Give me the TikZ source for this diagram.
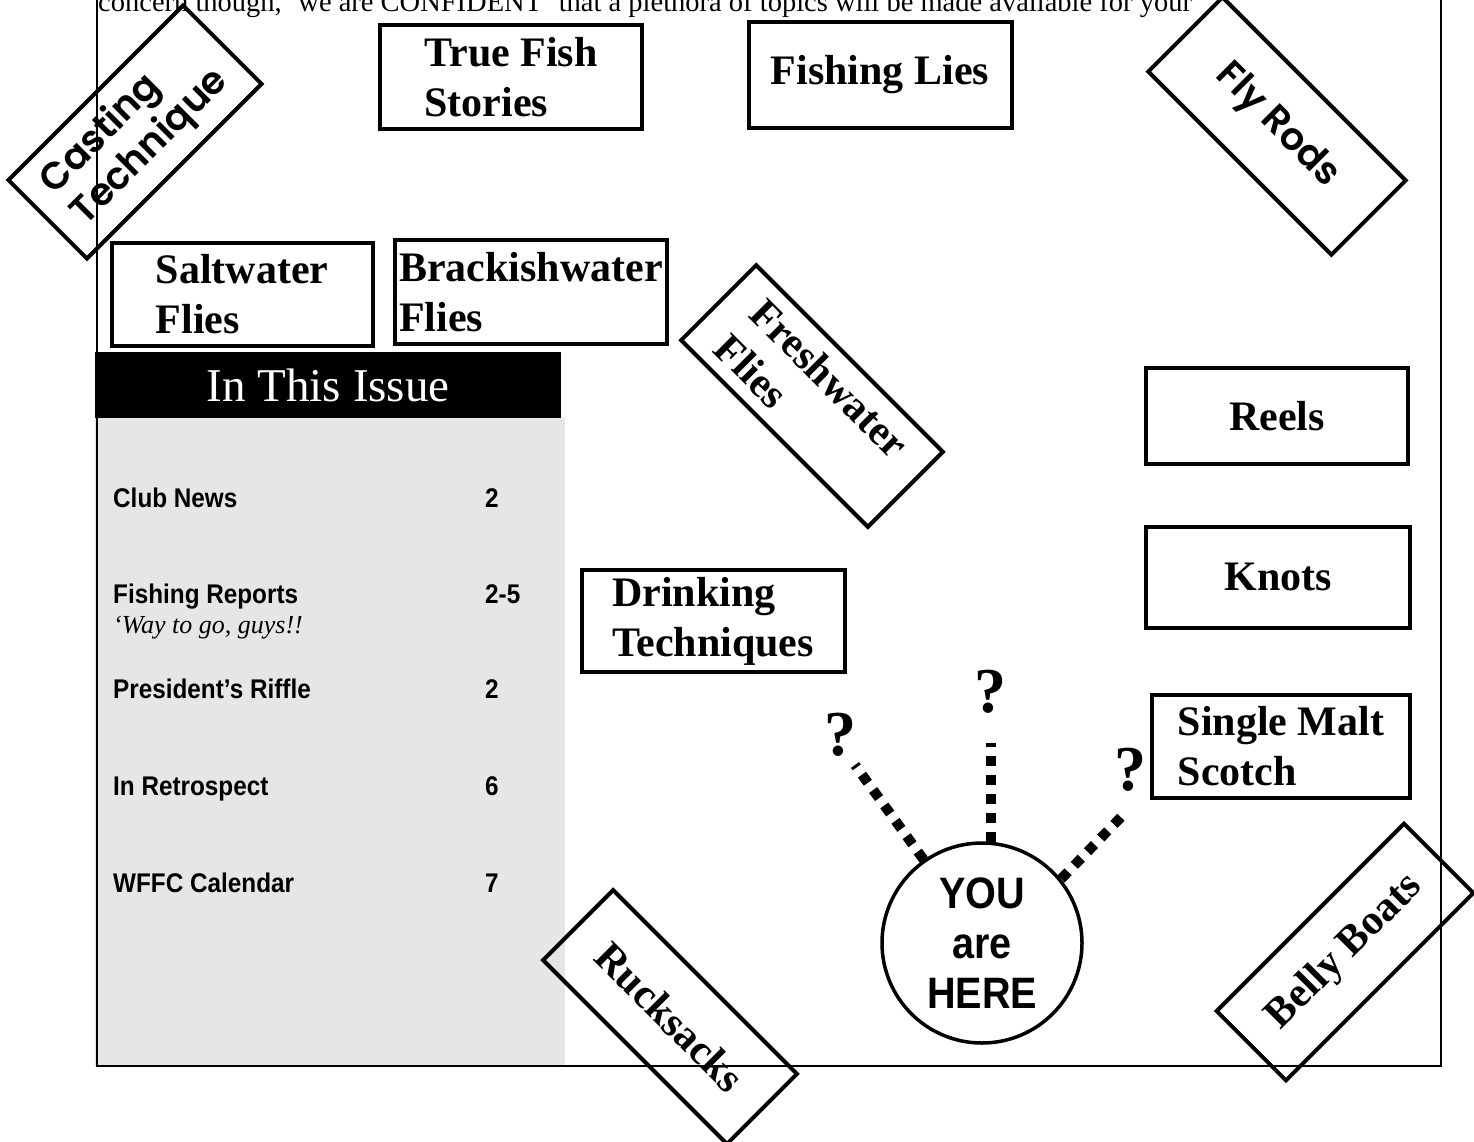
\documentclass[tikz,border=0pt]{standalone}
\usepackage{fontspec}
\setmainfont{Liberation Serif}
\newfontfamily\geofont{Poppins SemiBold}
\newfontfamily\gothfont{Liberation Sans}[FakeStretch=0.9]
\usepackage{xcolor}
\usepackage{tikz}
\usetikzlibrary{positioning}
\definecolor{panelgray}{HTML}{E6E6E6}

\begin{document}
\begin{tikzpicture}[
    x=1pt, y=-1pt,
    topic/.style={rectangle, draw=black, line width=4pt, minimum width=262pt, minimum height=104pt, align=left, inner sep=2pt, font=\fontsize{42}{50}\selectfont\bfseries},
    geotopic/.style={topic, font=\geofont\fontsize{38}{44}\selectfont},
    entry/.style={anchor=base west, inner sep=0pt, font=\gothfont\fontsize{27}{30}\selectfont\bfseries},
    qmark/.style={inner sep=0pt, font=\fontsize{64}{64}\selectfont\bfseries},
    qline/.style={line width=10pt, dash pattern=on 10pt off 9pt}
]
    \useasboundingbox (0,0) rectangle (1474,1141);

    % contents panel
    \fill[panelgray] (95,418) rectangle (565,1066);
    \node[fill=black, text=white, anchor=north west, minimum width=466pt, minimum height=66pt, inner sep=0pt, font=\fontsize{47}{50}\selectfont] (issue) at (95,352) {In This Issue};
    \draw[line width=2pt] (97,-5) |- (1441,1066) -- (1441,-5);

    \node[anchor=base west, inner sep=0pt, font=\fontsize{28.5}{30}\selectfont] (topline) at (98,11) {concern though, ‘we are CONFIDENT’ that a plethora of topics will be made available for your};

    \node[entry] (clubnews) at (113,507) {Club News};
    \node[entry] (clubpg) at (485,507) {2};
    \node[entry] (reports) at (113,603) {Fishing Reports};
    \node[entry] (reportspg) at (485,603) {2-5};
    \node[anchor=base west, inner sep=0pt, font=\fontsize{26}{28}\selectfont\itshape] (wayto) at (113,633) {‘Way to go, guys!!};
    \node[entry] (riffle) at (113,698) {President’s Riffle};
    \node[entry] (rifflepg) at (485,698) {2};
    \node[entry] (retro) at (113,795) {In Retrospect};
    \node[entry] (retropg) at (485,795) {6};
    \node[entry] (calendar) at (113,892) {WFFC Calendar};
    \node[entry] (calendarpg) at (485,892) {7};

    % topic boxes
    \node[topic] (truefish) at (511,77) {True Fish\\Stories};
    \node[topic, minimum width=263pt, minimum height=106pt] (fishlies) at (880,75) {Fishing Lies};
    \node[geotopic, rotate=45, minimum width=247pt, minimum height=111pt] (casting) at (135,132) {Casting\\Technique};
    \node[geotopic, rotate=-45, minimum width=259pt, minimum height=105pt] (flyrods) at (1277,126) {Fly Rods};
    \node[topic, minimum width=261pt, minimum height=103pt] (saltwater) at (242,294) {Saltwater\\Flies};
    \node[topic, minimum width=272pt] (brackish) at (531,292) {Brackishwater\\Flies};
    \node[topic, rotate=-45, minimum width=264pt, minimum height=106pt] (freshwater) at (812,396) {Freshwater\\Flies};
    \node[topic, minimum height=96pt, align=center] (reels) at (1277,416) {Reels};
    \node[topic, minimum width=264pt, minimum height=101pt, align=center] (knots) at (1278,577) {Knots};
    \node[topic, minimum width=263pt, minimum height=102pt] (drinking) at (713,621) {Drinking\\Techniques};
    \node[topic, minimum width=258pt, minimum height=103pt] (scotch) at (1281,746) {Single Malt\\Scotch};
    \node[topic, rotate=-45, minimum width=260pt, minimum height=99pt] (rucksacks) at (670,1017) {Rucksacks};
    \node[topic, rotate=45, minimum width=265pt, minimum height=98pt] (bellyboats) at (1345,952) {Belly Boats};

    % you are here
    \node[circle, draw, line width=3.5pt, minimum size=200pt, inner sep=0pt, align=center, font=\gothfont\fontsize{44}{50}\selectfont\bfseries] (you) at (982,943) {YOU\\are\\HERE};
    \node[qmark] (qleft) at (840,735) {?};
    \node[qmark] (qmid) at (990,692) {?};
    \node[qmark] (qright) at (1130,770) {?};
    \coordinate (lend) at (855,765);
    \coordinate (mend) at (990,743);
    \coordinate (rend) at (1125,813);
    \draw[qline] (you.125) -- (lend);
    \draw[qline] (you.85) -- (you.85 |- mend);
    \draw[qline] (you.39) -- (rend);
\end{tikzpicture}
\end{document}
